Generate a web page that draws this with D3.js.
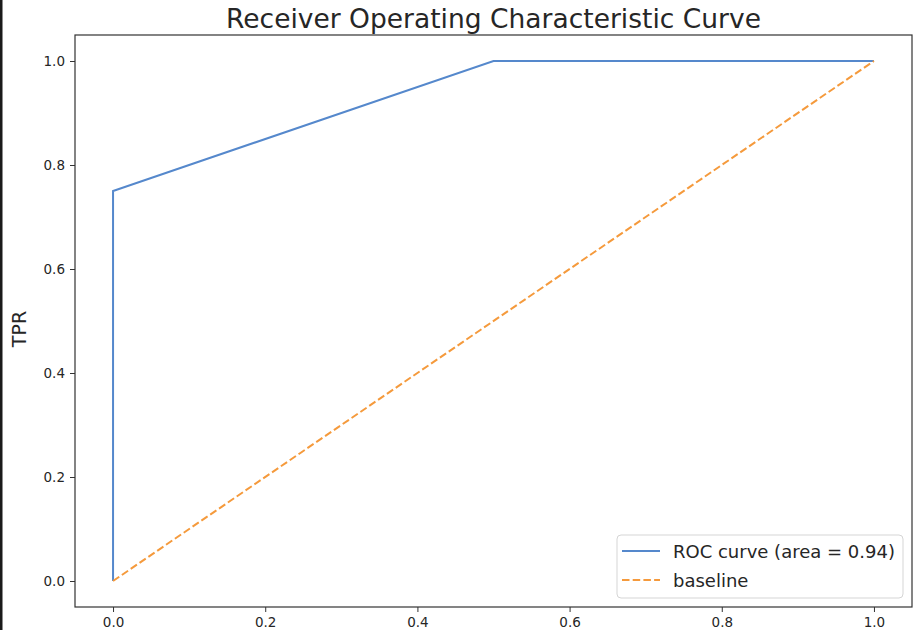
<!DOCTYPE html>
<html>
<head>
<meta charset="utf-8">
<script src="https://cdn.jsdelivr.net/npm/d3@7"></script>
<style>
  body { margin: 0; background: #fff; }
  text { font-family: "DejaVu Sans", sans-serif; fill: #262626; }
</style>
</head>
<body>
<div id="chart"></div>
<script>
// ROC points
const fpr = [0.0, 0.0, 0.5, 1.0];
const tpr = [0.0, 0.75, 1.0, 1.0];
const baseX = [0.0, 1.0];
const baseY = [0.0, 1.0];
const xTicks = [0.0, 0.2, 0.4, 0.6, 0.8, 1.0];
const yTicks = [0.0, 0.2, 0.4, 0.6, 0.8, 1.0];
const legendLabels = ["ROC curve (area = 0.94)", "baseline"];
const titleText = "Receiver Operating Characteristic Curve";
const yLabel = "TPR";

const width = 920, height = 630;
const margin = {top: 35, right: 8, bottom: 23, left: 75};

const svg = d3.select("#chart").append("svg")
    .attr("width", width)
    .attr("height", height);

// dark border on the left edge of the screenshot
svg.append("rect").attr("x", 0).attr("y", 0).attr("width", 2.5).attr("height", height).attr("fill", "#1a1a1a");

const x = d3.scaleLinear().domain([-0.05, 1.05]).range([margin.left, width - margin.right]);
const y = d3.scaleLinear().domain([-0.05, 1.05]).range([height - margin.bottom, margin.top]);

const blue = "#5588cc", orange = "#f59a3c";

//lines
const line = d3.line().x(d => x(d[0])).y(d => y(d[1]));

svg.append("path")
    .datum(d3.zip(fpr, tpr))
    .attr("d", line)
    .attr("fill", "none")
    .attr("stroke", blue)
    .attr("stroke-width", 2)
    .attr("stroke-linejoin", "miter");

svg.append("path")
    .datum(d3.zip(baseX, baseY))
    .attr("d", line)
    .attr("fill", "none")
    .attr("stroke", orange)
    .attr("stroke-width", 2)
    .attr("stroke-dasharray", "7.5,3.2");

//axes
const xAxis = svg.append("g")
    .attr("transform", `translate(0,${height - margin.bottom})`)
    .call(d3.axisBottom(x).tickValues(xTicks).tickFormat(d3.format(".1f")).tickSize(5).tickPadding(5).tickSizeOuter(0));
const yAxis = svg.append("g")
    .attr("transform", `translate(${margin.left},0)`)
    .call(d3.axisLeft(y).tickValues(yTicks).tickFormat(d3.format(".1f")).tickSize(5).tickPadding(5).tickSizeOuter(0));

[xAxis, yAxis].forEach(a => {
    a.select(".domain").remove();
    a.selectAll("line").attr("stroke", "#333");
    a.selectAll("text").attr("font-size", 13.5).attr("font-family", "DejaVu Sans").attr("fill", "#262626");
});

// frame
svg.append("rect")
    .attr("x", x(-0.05)).attr("y", y(1.05))
    .attr("width", x(1.05) - x(-0.05))
    .attr("height", y(-0.05) - y(1.05))
    .attr("fill", "none")
    .attr("stroke", "#333")
    .attr("stroke-width", 1.2);

// title + label
svg.append("text")
    .attr("x", (x(-0.05) + x(1.05)) / 2)
    .attr("y", 28)
    .attr("text-anchor", "middle")
    .attr("font-size", 26.5)
    .text(titleText);

svg.append("text")
    .attr("transform", `translate(26,${(y(-0.05) + y(1.05)) / 2 + 8}) rotate(-90)`)
    .attr("text-anchor", "middle")
    .attr("font-size", 19)
    .text(yLabel);

// legend
const lg = svg.append("g").attr("transform", "translate(617,535)");
lg.append("rect")
    .attr("width", 286).attr("height", 63)
    .attr("rx", 4)
    .attr("fill", "#fff").attr("fill-opacity", 0.8)
    .attr("stroke", "#d5d5d5");

const styles = [{c: blue, dash: null}, {c: orange, dash: "7.5,3.2"}];
legendLabels.forEach((lab, i) => {
    const cy = 16 + i * 29;
    lg.append("line")
        .attr("x1", 5).attr("x2", 43)
        .attr("y1", cy).attr("y2", cy)
        .attr("stroke", styles[i].c)
        .attr("stroke-width", 2)
        .attr("stroke-dasharray", styles[i].dash);
    lg.append("text")
        .attr("x", 56).attr("y", cy + 6.5)
        .attr("font-size", 18)
        .text(lab);
});
</script>
</body>
</html>
